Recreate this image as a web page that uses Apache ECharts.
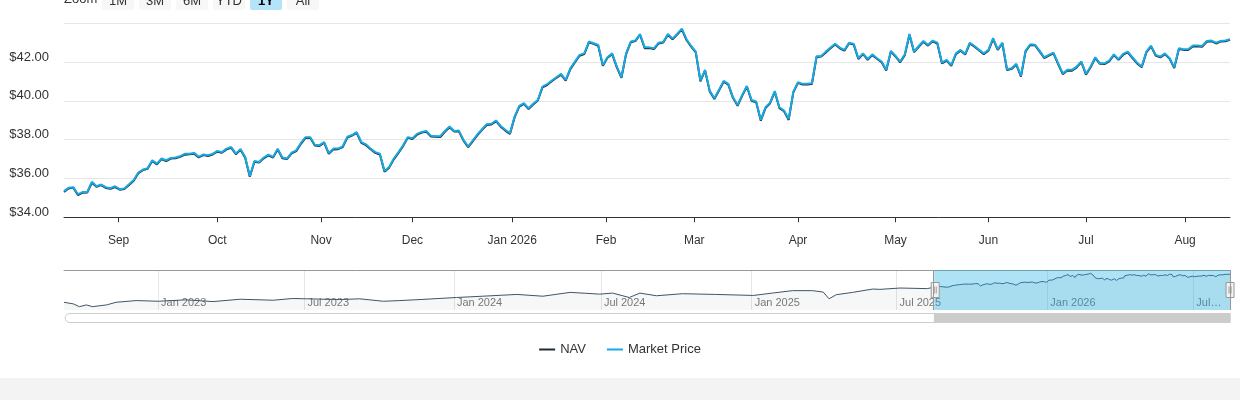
<!DOCTYPE html>
<html>
<head>
<meta charset="utf-8">
<title>NAV vs Market Price</title>
<script src="https://cdn.jsdelivr.net/npm/echarts@6/dist/echarts.min.js"></script>
<style>
  html, body { margin: 0; padding: 0; background: #f3f3f3; }
  #chart { width: 1240px; height: 378px; background: #fff; }
</style>
</head>
<body>
<div id="chart"></div>
<script>
// trading calendar (US exchange holidays skipped, like the ordinal axis in the picture)
const firstDay = "2022-09-08";
const lastDay = "2026-08-14";
const mainStartDay = "2025-08-14";
const holidays = [
  "2022-09-05", "2022-11-24", "2022-12-26",
  "2023-01-02", "2023-01-16", "2023-02-20", "2023-04-07", "2023-05-29", "2023-06-19", "2023-07-04",
  "2023-09-04", "2023-11-23", "2023-12-25",
  "2024-01-01", "2024-01-15", "2024-02-19", "2024-03-29", "2024-05-27", "2024-06-19", "2024-07-04",
  "2024-09-02", "2024-11-28", "2024-12-25",
  "2025-01-01", "2025-01-09", "2025-01-20", "2025-02-17", "2025-04-18", "2025-05-26", "2025-06-19",
  "2025-07-04", "2025-09-01", "2025-11-27", "2025-12-25",
  "2026-01-01", "2026-01-19", "2026-02-16", "2026-04-03", "2026-05-25", "2026-06-19", "2026-07-03"
];

// last year, one value per trading day from 2025-08-14
const marketPrice = [
  35.35, 35.52, 35.55, 35.19, 35.30, 35.30, 35.83, 35.60, 35.69, 35.55,
  35.50, 35.60, 35.45, 35.49, 35.70, 35.92, 36.31, 36.46, 36.53, 36.94,
  36.77, 37.03, 36.94, 37.06, 37.08, 37.15, 37.27, 37.28, 37.32, 37.12,
  37.24, 37.20, 37.27, 37.42, 37.36, 37.54, 37.62, 37.28, 37.52, 37.11,
  36.12, 36.90, 36.85, 37.08, 37.23, 37.11, 37.54, 37.08, 37.03, 37.33,
  37.45, 37.83, 38.13, 38.13, 37.74, 37.72, 37.88, 37.31, 37.54, 37.54,
  37.66, 38.15, 38.24, 38.39, 37.88, 37.76, 37.54, 37.36, 37.28, 36.39,
  36.59, 37.03, 37.36, 37.71, 38.13, 38.08, 38.30, 38.40, 38.45, 38.20,
  38.18, 38.18, 38.45, 38.68, 38.45, 38.47, 37.99, 37.65, 37.96, 38.28,
  38.54, 38.80, 38.82, 38.99, 38.71, 38.51, 38.33, 39.19, 39.74, 39.88,
  39.62, 39.85, 40.05, 40.74, 40.86, 41.05, 41.22, 41.39, 41.08, 41.68,
  42.03, 42.37, 42.45, 43.06, 42.97, 42.88, 41.85, 42.25, 42.45, 41.77,
  41.22, 42.45, 43.06, 43.11, 43.45, 42.76, 42.76, 42.71, 43.00, 43.04,
  43.45, 43.21, 43.45, 43.73, 43.18, 42.83, 42.54, 41.05, 41.60, 40.53,
  40.14, 40.57, 41.03, 40.88, 40.19, 39.79, 40.31, 40.77, 40.05, 39.97,
  39.02, 39.67, 39.91, 40.51, 39.67, 39.50, 39.06, 40.48, 40.96, 40.88,
  40.88, 40.91, 42.30, 42.32, 42.54, 42.75, 42.94, 42.75, 42.63, 43.00,
  42.94, 42.20, 42.45, 42.16, 42.40, 42.20, 42.03, 41.60, 42.58, 42.32,
  42.03, 42.40, 43.45, 42.54, 42.83, 43.09, 42.88, 43.11, 43.00, 41.97,
  42.11, 41.85, 42.45, 42.63, 42.42, 43.00, 42.83, 42.63, 42.45, 42.63,
  43.23, 42.66, 43.00, 41.63, 41.68, 41.91, 41.29, 42.59, 42.92, 42.90,
  42.59, 42.25, 42.37, 42.49, 41.94, 41.42, 41.60, 41.60, 41.77, 42.03,
  41.39, 41.77, 42.25, 41.94, 41.94, 42.08, 42.40, 42.15, 42.42, 42.54,
  42.25, 41.97, 41.77, 42.54, 42.85, 42.37, 42.28, 42.45, 42.20, 41.73,
  42.71, 42.66, 42.66, 42.85, 42.85, 42.83, 43.09, 43.11, 43.00, 43.09,
  43.11, 43.18
];

const navValues = [
  35.31, 35.49, 35.53, 35.15, 35.27, 35.28, 35.78, 35.57, 35.66, 35.51,
  35.47, 35.56, 35.42, 35.46, 35.66, 35.88, 36.27, 36.43, 36.50, 36.90,
  36.73, 37.00, 36.90, 37.03, 37.04, 37.12, 37.23, 37.25, 37.28, 37.09,
  37.21, 37.16, 37.24, 37.38, 37.33, 37.50, 37.58, 37.25, 37.48, 37.07,
  36.09, 36.86, 36.82, 37.04, 37.19, 37.08, 37.50, 37.04, 37.00, 37.29,
  37.41, 37.79, 38.09, 38.10, 37.70, 37.68, 37.85, 37.27, 37.50, 37.51,
  37.62, 38.11, 38.21, 38.35, 37.84, 37.72, 37.51, 37.32, 37.24, 36.35,
  36.56, 36.99, 37.32, 37.67, 38.10, 38.04, 38.26, 38.37, 38.41, 38.16,
  38.15, 38.14, 38.41, 38.64, 38.42, 38.43, 37.95, 37.62, 37.92, 38.24,
  38.51, 38.76, 38.78, 38.96, 38.67, 38.47, 38.30, 39.15, 39.70, 39.85,
  39.58, 39.81, 40.02, 40.70, 40.82, 41.01, 41.19, 41.35, 41.04, 41.64,
  42.00, 42.33, 42.41, 43.02, 42.94, 42.84, 41.81, 42.22, 42.41, 41.73,
  41.19, 42.41, 43.02, 43.08, 43.41, 42.72, 42.73, 42.67, 42.96, 43.01,
  43.41, 43.17, 43.42, 43.69, 43.14, 42.80, 42.50, 41.01, 41.57, 40.49,
  40.10, 40.54, 40.99, 40.84, 40.16, 39.75, 40.27, 40.74, 40.01, 39.93,
  38.98, 39.63, 39.88, 40.47, 39.63, 39.47, 39.02, 40.44, 40.93, 40.84,
  40.84, 40.87, 42.26, 42.29, 42.50, 42.71, 42.91, 42.71, 42.59, 42.97,
  42.90, 42.16, 42.42, 42.12, 42.36, 42.17, 41.99, 41.56, 42.54, 42.29,
  41.99, 42.36, 43.41, 42.51, 42.79, 43.05, 42.85, 43.07, 42.96, 41.93,
  42.08, 41.81, 42.41, 42.59, 42.39, 42.96, 42.79, 42.60, 42.41, 42.59,
  43.19, 42.63, 42.96, 41.59, 41.65, 41.87, 41.25, 42.55, 42.88, 42.87,
  42.55, 42.21, 42.34, 42.45, 41.90, 41.38, 41.57, 41.56, 41.73, 42.00,
  41.35, 41.73, 42.21, 41.91, 41.90, 42.04, 42.36, 42.12, 42.38, 42.50,
  42.21, 41.93, 41.74, 42.50, 42.81, 42.34, 42.24, 42.41, 42.17, 41.69,
  42.67, 42.63, 42.62, 42.81, 42.82, 42.79, 43.05, 43.08, 42.96, 43.06,
  43.07, 43.15
];

// older NAV history, only seen in the navigator
const navHistoryDates = [
  "2022-09-08", "2022-09-20", "2022-09-27", "2022-10-05", "2022-10-12", "2022-10-28", "2022-11-09",
  "2022-12-05", "2023-01-03", "2023-02-06", "2023-03-10", "2023-04-13", "2023-05-23", "2023-06-15",
  "2023-07-05", "2023-08-14", "2023-09-07", "2023-10-05", "2023-10-25", "2023-11-17", "2024-01-04",
  "2024-02-06", "2024-03-19", "2024-04-19", "2024-05-22", "2024-06-28", "2024-07-16", "2024-08-05",
  "2024-08-16", "2024-09-06", "2024-10-08", "2024-11-15", "2025-01-03", "2025-01-29", "2025-02-24",
  "2025-03-19", "2025-04-01", "2025-04-08", "2025-04-16", "2025-05-07", "2025-06-02", "2025-06-10",
  "2025-07-07", "2025-08-07"
];
const navHistoryValues = [
  26.37, 25.40, 23.75, 24.80, 23.75, 24.80, 26.37,
  27.40, 26.99, 27.84, 26.80, 28.20, 27.60, 28.63,
  28.45, 28.00, 28.45, 26.99, 27.40, 28.00, 29.24,
  30.00, 31.07, 30.00, 32.30, 31.26, 31.87, 29.24,
  31.87, 30.28, 31.50, 31.07, 30.46, 31.87, 33.33,
  33.33, 32.48, 28.45, 30.90, 32.30, 34.30, 34.10,
  34.90, 34.55
];

const yTicks = [34, 36, 38, 40, 42, 44];
const monthNames = ["Jan", "Feb", "Mar", "Apr", "May", "Jun", "Jul", "Aug", "Sep", "Oct", "Nov", "Dec"];
const zoomButtons = ["1M", "3M", "6M", "YTD", "1Y", "All"];

const DAY = 86400000;
const toTime = (s) => Date.parse(s + "T00:00:00Z");
const holidaySet = new Set(holidays);

const tradingDays = [];
for (let t = toTime(firstDay); t <= toTime(lastDay); t += DAY) {
  const d = new Date(t);
  const wd = d.getUTCDay();
  const key = d.toISOString().slice(0, 10);
  if (wd === 0 || wd === 6 || holidaySet.has(key)) continue;
  tradingDays.push({ key, t });
}
const indexOfDay = {};
tradingDays.forEach((d, i) => (indexOfDay[d.key] = i));
const lastIdx = tradingDays.length - 1;
const startIdx = indexOfDay[mainStartDay];

// ordinal position of a calendar instant, between the trading days around it
const ordinalPos = (t) => {
  const i1 = tradingDays.findIndex((d) => d.t >= t);
  if (i1 <= 0) return null;
  if (tradingDays[i1].t === t) return i1;
  const a = tradingDays[i1 - 1].t;
  const b = tradingDays[i1].t;
  return i1 - 1 + (t - a) / (b - a);
};

const monthTicks = (fromIdx, months, withYear) => {
  const list = [];
  for (let y = 2022; y <= 2026; y++) {
    for (let m = 0; m < 12; m++) {
      if (months && months.indexOf(m) < 0) continue;
      const pos = ordinalPos(Date.UTC(y, m, 1));
      if (pos == null || pos < fromIdx || pos > lastIdx) continue;
      list.push({ pos, label: withYear || m === 0 ? `${monthNames[m]} ${y}` : monthNames[m], month: m });
    }
  }
  return list;
};
const mainTicks = monthTicks(startIdx, null, false);
const navTicks = monthTicks(0, [0, 6], true);
const findTick = (list, v) => list.find((t) => Math.abs(t.pos - v) < 1e-6);

const navSeries = navHistoryDates
  .map((d, i) => [indexOfDay[d], navHistoryValues[i]])
  .concat(navValues.map((v, i) => [startIdx + i, v]));
const navAll = navSeries.map((p) => p[1]);
const navMin = Math.min(...navAll);
const navMax = Math.max(...navAll);
const navPad = (navMax - navMin) * 0.1;

const chart = echarts.init(document.getElementById("chart"));

chart.setOption({
  animation: false,
  textStyle: { fontFamily: "Liberation Sans, Arial, sans-serif" },
  legend: {
    data: ["NAV", "Market Price"],
    top: 343,
    left: "center",
    icon: "rect",
    itemWidth: 16,
    itemHeight: 2,
    itemGap: 21,
    padding: 0,
    textStyle: { fontSize: 13, color: "#333" }
  },
  grid: [
    { left: 64, right: 10, top: 23.3, height: 194 },
    { left: 64, right: 10, top: 270, height: 40 }
  ],
  xAxis: [
    {
      type: "value",
      gridIndex: 0,
      min: 0,
      max: lastIdx,
      axisLine: { lineStyle: { color: "#333", width: 1 } },
      axisTick: { length: 5, lineStyle: { color: "#333" }, customValues: mainTicks.map((t) => t.pos) },
      axisLabel: {
        customValues: mainTicks.map((t) => t.pos),
        color: "#333",
        fontSize: 12,
        margin: 17,
        formatter: (v) => {
          const tick = findTick(mainTicks, v);
          return tick ? tick.label : "";
        }
      },
      splitLine: { show: false }
    },
    {
      type: "value",
      gridIndex: 1,
      min: 0,
      max: lastIdx,
      axisLine: { show: false },
      axisTick: { show: false, customValues: navTicks.map((t) => t.pos) },
      axisLabel: {
        customValues: navTicks.map((t) => t.pos),
        inside: true,
        align: "left",
        padding: [0, 0, 0, 3],
        margin: 2,
        color: "#7a7a7a",
        fontSize: 11,
        formatter: (v) => {
          const tick = findTick(navTicks, v);
          if (!tick) return "";
          return lastIdx - tick.pos < 40 ? `${monthNames[tick.month]}…` : tick.label;
        }
      },
      splitLine: { show: true, lineStyle: { color: "#e6e6e6", width: 1 } }
    },
    {
      type: "value",
      gridIndex: 1,
      position: "top",
      min: 0,
      max: 1,
      axisLine: { show: true, lineStyle: { color: "#999", width: 1 } },
      axisTick: { show: false },
      axisLabel: { show: false },
      splitLine: { show: false }
    }
  ],
  yAxis: [
    {
      type: "value",
      gridIndex: 0,
      min: yTicks[0],
      max: yTicks[yTicks.length - 1],
      interval: 2,
      axisLine: { show: false },
      axisTick: { show: false },
      axisLabel: {
        showMaxLabel: false,
        color: "#333",
        fontSize: 13,
        lineHeight: 10,
        margin: 15,
        verticalAlign: "bottom",
        formatter: (v) => "$" + v.toFixed(2)
      },
      splitLine: { lineStyle: { color: "#e6e6e6", width: 1 } }
    },
    {
      type: "value",
      gridIndex: 1,
      show: false,
      min: navMin - navPad,
      max: navMax + navPad
    }
  ],
  dataZoom: [
    {
      type: "slider",
      xAxisIndex: 0,
      startValue: startIdx,
      endValue: lastIdx,
      left: 64,
      right: 10,
      top: 270,
      height: 40,
      showDataShadow: false,
      showDetail: false,
      brushSelect: false,
      moveHandleSize: 0,
      moveHandleStyle: { opacity: 0 },
      backgroundColor: "transparent",
      borderColor: "transparent",
      fillerColor: "rgba(24,172,226,0.35)",
      handleIcon: "path://M0,0 L8,0 L8,15 L0,15 Z M3,4 L3,11 M5,4 L5,11",
      handleSize: 15,
      handleStyle: { color: "#f2f2f2", borderColor: "#999", borderWidth: 1 }
    },
    {
      type: "slider",
      xAxisIndex: 0,
      startValue: startIdx,
      endValue: lastIdx,
      left: 64,
      right: 10,
      top: 313,
      height: 10,
      showDataShadow: false,
      showDetail: false,
      brushSelect: false,
      moveHandleSize: 0,
      moveHandleStyle: { opacity: 0 },
      backgroundColor: "#fff",
      borderColor: "#cccccc",
      borderRadius: 5,
      fillerColor: "#cccccc",
      handleSize: 0,
      handleStyle: { opacity: 0 }
    }
  ],
  series: [
    {
      name: "NAV",
      type: "line",
      xAxisIndex: 0,
      yAxisIndex: 0,
      data: navValues.map((v, i) => [startIdx + i, v]),
      showSymbol: false,
      symbol: "none",
      color: "#1f2b38",
      lineStyle: { width: 2 }
    },
    {
      name: "Market Price",
      type: "line",
      xAxisIndex: 0,
      yAxisIndex: 0,
      data: marketPrice.map((v, i) => [startIdx + i, v]),
      showSymbol: false,
      symbol: "none",
      color: "#18a8e2",
      lineStyle: { width: 2 }
    },
    {
      name: "navigator",
      type: "line",
      xAxisIndex: 1,
      yAxisIndex: 1,
      data: navSeries,
      showSymbol: false,
      symbol: "none",
      silent: true,
      color: "#3f5468",
      lineStyle: { width: 1 },
      areaStyle: { origin: "start", color: "rgba(40,60,80,0.06)" },
      markLine: {
        silent: true,
        symbol: "none",
        label: { show: false },
        lineStyle: { color: "#999", width: 1, type: "solid" },
        data: [{ xAxis: startIdx }, { xAxis: lastIdx }]
      }
    }
  ],
  graphic: [
    {
      type: "text",
      x: 64,
      y: -0.5,
      style: { text: "Zoom", font: "13px Liberation Sans", fill: "#333", verticalAlign: "middle" }
    }
  ].concat(
    zoomButtons.map((b, k) => ({
      type: "group",
      x: 102 + 37 * k,
      y: -12,
      children: [
        {
          type: "rect",
          shape: { x: 0, y: 0, width: 32, height: 22, r: 2 },
          style: { fill: b === "1Y" ? "#b5e3f7" : "#f7f7f7" }
        },
        {
          type: "text",
          x: 16,
          y: 13,
          style: {
            text: b,
            align: "center",
            verticalAlign: "middle",
            font: (b === "1Y" ? "bold " : "") + "13px Liberation Sans",
            fill: b === "1Y" ? "#000" : "#333"
          }
        }
      ]
    }))
  )
});
</script>
</body>
</html>
